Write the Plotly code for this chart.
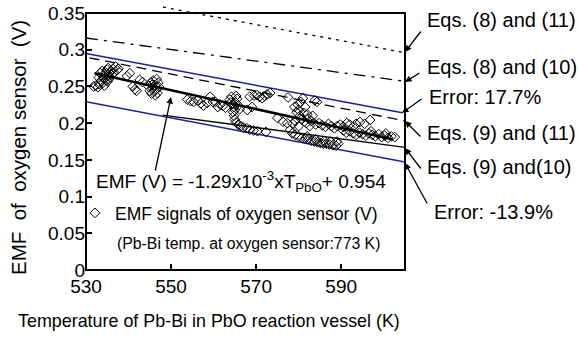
import plotly.graph_objects as go

# ---------------- data ----------------
# EMF signals of oxygen sensor: temperature of Pb-Bi in PbO vessel (K) and EMF (V)
temp_pbo = [
    531.8, 532.3, 532.8, 533.0, 533.3, 533.6, 533.8, 534.0, 534.2, 534.4, 534.6, 534.8,
    535.0, 535.2, 535.3, 535.5, 535.7, 535.9, 536.1, 536.3, 536.6, 537.0, 537.3, 537.6,
    533.1, 534.3, 535.1, 534.1,
    539.6, 540.3, 541.0, 541.5, 541.9, 542.6, 543.3,
    544.7, 545.0, 545.2, 545.4, 545.6, 545.8, 546.0, 546.2, 546.4, 546.6, 546.8, 547.0,
    547.2, 545.5, 546.3,
    553.8, 554.6, 555.3, 556.2, 557.0, 557.6, 558.5, 559.2, 559.8, 560.4, 561.0, 561.6,
    562.2, 562.8,
    563.8, 564.2, 564.5, 564.8, 565.0, 565.2, 565.5, 565.8, 566.1, 564.6, 565.3, 564.0,
    564.8, 565.0, 565.3, 565.8, 566.4, 567.0, 567.8, 568.5, 569.4, 570.3, 572.3,
    567.9, 568.5, 569.0, 569.5, 570.2, 570.8, 571.4, 572.0, 572.6, 573.3,
    575.0, 576.3, 577.3, 577.5, 578.0,
    579.0, 579.5, 579.8, 580.0, 580.3, 580.5, 580.7, 581.0, 581.2, 581.5, 581.8, 582.0,
    582.3, 582.6, 583.0, 583.3, 583.8, 584.3, 584.0, 578.6, 579.2, 580.0,
    578.5, 579.2, 580.0, 580.8, 581.5, 582.2, 583.0, 583.7, 584.4, 585.1, 585.8, 586.5,
    587.2, 588.0, 588.8, 589.3, 584.0, 586.0, 587.5, 582.0, 589.0,
    584.8, 585.5, 586.3, 587.0, 587.7, 588.4, 589.1, 589.8, 590.5, 591.3, 592.0, 592.8,
    593.5, 594.4, 595.5, 596.8,
    590.5, 591.2, 592.0, 592.8, 593.5, 594.3, 595.0, 595.8, 596.5, 597.3, 598.0, 598.8,
    599.5, 600.2, 601.0, 601.8, 602.6, 600.5, 597.0,
]
emf_signal = [
    0.250, 0.251, 0.249, 0.262, 0.268, 0.258, 0.271, 0.255, 0.265, 0.261, 0.269, 0.258,
    0.273, 0.275, 0.264, 0.268, 0.262, 0.271, 0.266, 0.274, 0.269, 0.277, 0.272, 0.274,
    0.253, 0.251, 0.257, 0.262,
    0.264, 0.268, 0.250, 0.246, 0.244, 0.259, 0.256,
    0.250, 0.244, 0.255, 0.240, 0.248, 0.258, 0.243, 0.252, 0.246, 0.260, 0.241, 0.255,
    0.249, 0.252, 0.238,
    0.232, 0.230, 0.229, 0.231, 0.227, 0.224, 0.2275, 0.236, 0.229, 0.229, 0.222, 0.225,
    0.2235, 0.221,
    0.232, 0.236, 0.226, 0.222, 0.218, 0.228, 0.233, 0.224, 0.219, 0.215, 0.237, 0.228,
    0.210, 0.205, 0.201, 0.198, 0.196, 0.194, 0.193, 0.191, 0.190, 0.189, 0.188,
    0.218, 0.236, 0.222, 0.2375, 0.238, 0.236, 0.234, 0.237, 0.239, 0.241,
    0.207, 0.202, 0.200, 0.235, 0.191,
    0.222, 0.215, 0.225, 0.218, 0.210, 0.229, 0.205, 0.234, 0.214, 0.222, 0.200, 0.212,
    0.206, 0.196, 0.203, 0.210, 0.231, 0.229, 0.198, 0.199, 0.203, 0.196,
    0.186, 0.184, 0.182, 0.180, 0.179, 0.178, 0.176, 0.175, 0.174, 0.173, 0.172, 0.172,
    0.171, 0.170, 0.169, 0.172, 0.178, 0.176, 0.175, 0.182, 0.175,
    0.200, 0.197, 0.195, 0.199, 0.196, 0.193, 0.196, 0.198, 0.195, 0.200, 0.198, 0.195,
    0.199, 0.2016, 0.199, 0.2043,
    0.190, 0.187, 0.189, 0.186, 0.184, 0.187, 0.185, 0.183, 0.186, 0.184, 0.182, 0.185,
    0.181, 0.183, 0.180, 0.182, 0.181, 0.186, 0.189,
]

# Calculated / reference lines (end points)
eq8_11_T = [548.1, 605.0]
eq8_11_V = [0.358, 0.296]
eq8_10_T = [530.0, 605.0]
eq8_10_V = [0.316, 0.257]
err_pos_T = [530.0, 604.4]
err_pos_V = [0.295, 0.214]
eq9_11_T = [530.8, 605.0]
eq9_11_V = [0.289, 0.203]
eq9_10_T = [548.0, 605.0]
eq9_10_V = [0.211, 0.167]
err_neg_T = [530.0, 605.0]
err_neg_V = [0.229, 0.147]
fit_T = [532.0, 602.0]
fit_V = [0.268, 0.178]

x_ticks = [530, 550, 570, 590]
y_ticks = [0, 0.05, 0.1, 0.15, 0.2, 0.25, 0.3, 0.35]
y_tick_text = ["0", "0.05", "0.1", "0.15", "0.2", "0.25", "0.3", "0.35"]

# ---------------- figure ----------------
FONT = "Liberation Sans, Arial, Helvetica, sans-serif"
BLUE = "#1e1e96"
W, H = 578, 344
ML, MR, MT, MB = 86, 173, 4, 74
PW, PH = W - ML - MR, H - MT - MB
Y_TOP = 0.35 * PH / (PH - 9)     # 0.35 sits 9 px below the plot-area top


def paper(px, py):
    """window pixel -> paper coordinates"""
    return (px - ML) / PW, (H - MB - py) / PH


fig = go.Figure()

line_specs = [
    (eq8_11_T, eq8_11_V, "black", 1.3, "3px,5px"),
    (eq8_10_T, eq8_10_V, "black", 1.3, "12px,6px,3px,6px"),
    (err_pos_T, err_pos_V, BLUE, 1.5, "solid"),
    (eq9_11_T, eq9_11_V, "black", 1.3, "10px,6px"),
    (eq9_10_T, eq9_10_V, "black", 1.3, "solid"),
    (err_neg_T, err_neg_V, BLUE, 1.5, "solid"),
]
for tx, vy, col, wd, dash in line_specs:
    fig.add_trace(go.Scatter(x=tx, y=vy, mode="lines", showlegend=False,
                             line=dict(color=col, width=wd, dash=dash),
                             hoverinfo="skip"))

fig.add_trace(go.Scatter(
    x=temp_pbo, y=emf_signal, mode="markers",
    name="EMF signals of oxygen sensor (V)",
    marker=dict(symbol="diamond-open", size=7.5, color="black",
                line=dict(color="black", width=1)),
))

fig.add_trace(go.Scatter(x=fit_T, y=fit_V, mode="lines", showlegend=False,
                         line=dict(color="black", width=2.5)))

# frame box (0..0.35)
fig.add_shape(type="rect", xref="paper", yref="paper", x0=0, x1=1,
              y0=0, y1=0.35 / Y_TOP, line=dict(color="black", width=2),
              fillcolor="rgba(0,0,0,0)", layer="above")

annotations = []


def text_ann(txt, px, py, size, xanchor="left", angle=0):
    x, y = paper(px, py)
    annotations.append(dict(text=txt, x=x, y=y, xref="paper", yref="paper",
                            xanchor=xanchor, yanchor="middle", showarrow=False,
                            textangle=angle,
                            font=dict(family=FONT, size=size, color="black")))


def arrow(tail, head):
    x, y = paper(*head)
    annotations.append(dict(text="", x=x, y=y, xref="paper", yref="paper",
                            ax=tail[0] - head[0], ay=tail[1] - head[1],
                            showarrow=True, arrowhead=2, arrowsize=1,
                            arrowwidth=1.3, arrowcolor="black", standoff=0))


text_ann("Eqs. (8) and (11)", 425, 20, 20)
text_ann("Eqs. (8) and (10)", 425, 67, 20)
text_ann("Error: 17.7%", 427, 97, 20)
text_ann("Eqs. (9) and (11)", 425, 133, 20)
text_ann("Eqs. (9) and(10)", 425, 167, 20)
text_ann("Error: -13.9%", 432, 212, 20)

arrow((422, 30), (405, 52))
arrow((421, 72), (405, 82))
arrow((423, 98), (402, 113))
arrow((422, 138), (405, 121))
arrow((422, 170), (405, 148))
arrow((428, 205), (405, 163))

text_ann("EMF (V) = -1.29x10<sup>-3</sup>xT<sub>PbO</sub>+ 0.954", 94, 181, 19)
arrow((155, 172), (171, 97))

text_ann("(Pb-Bi temp. at oxygen sensor:773 K)", 115, 243, 15.8)
text_ann("Temperature of Pb-Bi in PbO reaction vessel (K)", 209, 321, 17.9, xanchor="center")
text_ann("EMF  of  oxygen sensor  (V)", 18, 148, 20.5, xanchor="center", angle=-90)

lx, ly = paper(75, 213)

fig.update_layout(
    width=W, height=H,
    margin=dict(l=ML, r=MR, t=MT, b=MB, pad=0, autoexpand=False),
    paper_bgcolor="white", plot_bgcolor="white",
    font=dict(family=FONT, size=19, color="black"),
    showlegend=True,
    legend=dict(x=lx, y=ly, xanchor="left", yanchor="middle",
                bgcolor="rgba(0,0,0,0)", font=dict(size=17.5),
                itemclick=False),
    annotations=annotations,
    xaxis=dict(range=[530, 605], tickvals=x_ticks, ticks="inside", ticklen=6,
               tickwidth=1.5, tickcolor="black", showgrid=False, zeroline=False,
               showline=False, tickfont=dict(size=19), automargin=False,
               ticklabelstandoff=3, ticklabeloverflow="allow"),
    yaxis=dict(range=[0, Y_TOP], tickvals=y_ticks, ticktext=y_tick_text,
               ticks="inside", ticklen=6, tickwidth=1.5, tickcolor="black",
               showgrid=False, zeroline=False, showline=False,
               tickfont=dict(size=19), automargin=False,
               ticklabeloverflow="allow"),
)

# the page's default 8px body margin would push the 578x344 figure out of view
fig.write_html("out.html", config={"displayModeBar": False},
               post_script="document.body.style.margin='0px';")
